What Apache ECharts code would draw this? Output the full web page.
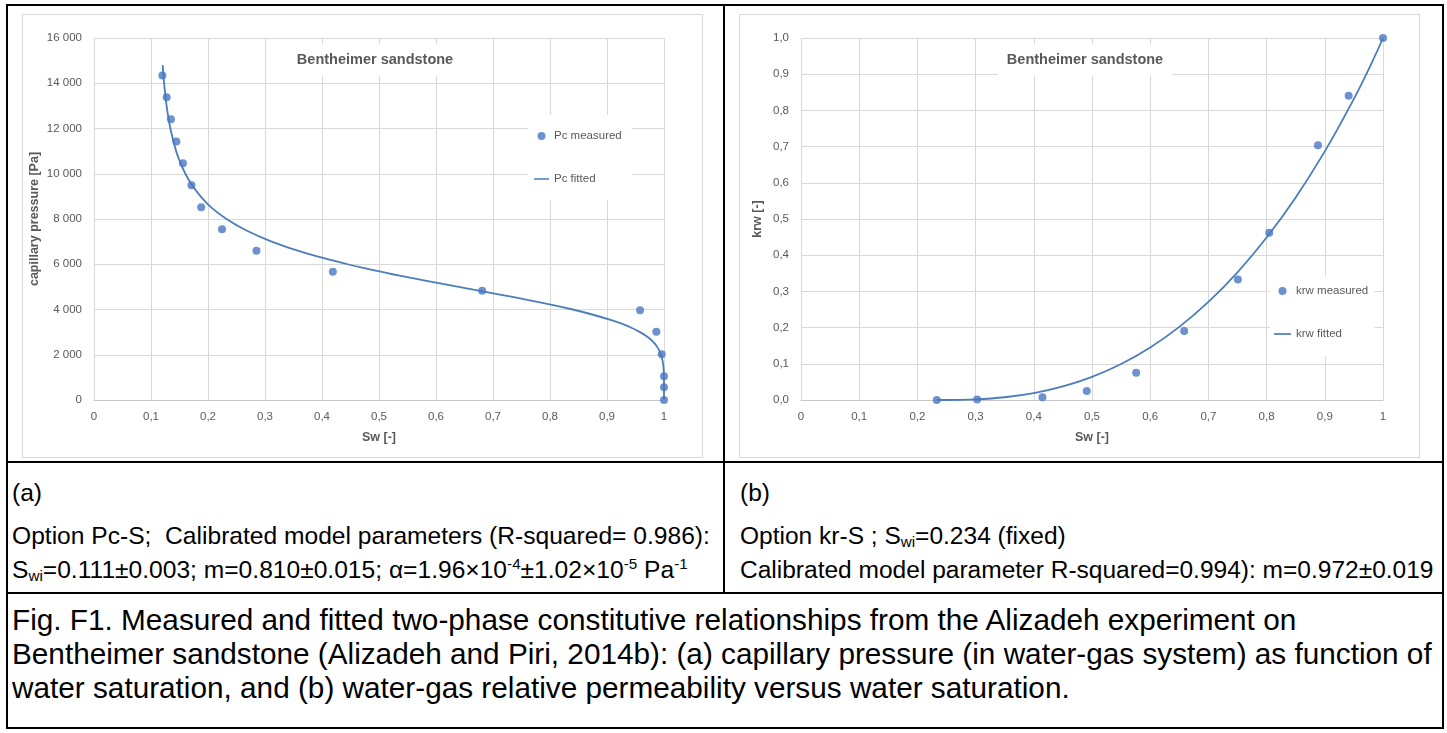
<!DOCTYPE html>
<html><head><meta charset="utf-8">
<script src="https://cdn.jsdelivr.net/npm/echarts@6/dist/echarts.min.js"></script>
<style>
html,body{margin:0;padding:0;background:#fff;}
body{width:1447px;height:733px;position:relative;overflow:hidden;font-family:"Liberation Sans",Arial,sans-serif;color:#000;}
.hl{position:absolute;background:#000;}
.box{position:absolute;box-sizing:border-box;border:1px solid #d9d9d9;background:#fff;}
.chart{position:absolute;}
.t{position:absolute;white-space:nowrap;line-height:34px;height:34px;}
sub{font-size:0.62em;vertical-align:-0.22em;line-height:0;}
sup{font-size:0.62em;vertical-align:0.6em;line-height:0;}
</style></head><body>
<!-- table frame -->
<div class="hl" style="left:6px;top:4px;width:1438px;height:2px"></div>
<div class="hl" style="left:6px;top:461px;width:1438px;height:2px"></div>
<div class="hl" style="left:6px;top:592px;width:1438px;height:2px"></div>
<div class="hl" style="left:6px;top:727px;width:1438px;height:2px"></div>
<div class="hl" style="left:6px;top:4px;width:2px;height:725px"></div>
<div class="hl" style="left:1442px;top:4px;width:2px;height:725px"></div>
<div class="hl" style="left:723px;top:4px;width:2px;height:590px"></div>

<div class="box" style="left:22px;top:14px;width:681px;height:444px"></div>
<div class="box" style="left:739px;top:14px;width:681px;height:444px"></div>
<div id="c1" class="chart" style="left:22px;top:14px;width:681px;height:444px"></div>
<div id="c2" class="chart" style="left:739px;top:14px;width:681px;height:444px"></div>

<div class="t ca" style="left:12px;top:476px">(a)</div>
<div class="t ca" id="refA" style="left:12px;top:519px">Option Pc-S;&nbsp; Calibrated model parameters (R-squared= 0.986):</div>
<div class="t ca" style="left:12px;top:553px">S<sub>wi</sub>=0.111±0.003; m=0.810±0.015; α=1.96×10<sup>-4</sup>±1.02×10<sup>-5</sup> Pa<sup>-1</sup></div>

<div class="t cb" style="left:740px;top:476px">(b)</div>
<div class="t cb" style="left:740px;top:519px">Option kr-S ; S<sub>wi</sub>=0.234 (fixed)</div>
<div class="t cb" id="refB" style="left:740px;top:553px">Calibrated model parameter R-squared=0.994): m=0.972±0.019</div>

<div class="t cf" style="left:12px;top:603px">Fig. F1. Measured and fitted two-phase constitutive relationships from the Alizadeh experiment on</div>
<div class="t cf" id="refF" style="left:12px;top:637px">Bentheimer sandstone (Alizadeh and Piri, 2014b): (a) capillary pressure (in water-gas system) as function of</div>
<div class="t cf" style="left:12px;top:671px">water saturation, and (b) water-gas relative permeability versus water saturation.</div>

<script>
// ---------- data ----------
const pcMeasuredSw = [0.120, 0.1275, 0.135, 0.1445, 0.156, 0.171, 0.188, 0.2246, 0.285, 0.419, 0.681, 0.958, 0.9866, 0.996, 1.0, 1.0, 1.0];
const pcMeasuredPc = [14340, 13380, 12410, 11420, 10460, 9490, 8520, 7550, 6600, 5670, 4830, 3970, 3020, 2020, 1050, 560, 0];

const pcFittedSw = [0.1205, 0.123, 0.1274, 0.134, 0.1441, 0.1513, 0.1603, 0.1719, 0.187, 0.206, 0.2325, 0.2666, 0.3116, 0.370, 0.445, 0.4798, 0.536, 0.640, 0.7456, 0.840, 0.912, 0.938, 0.958, 0.9731, 0.9835, 0.9904, 0.9948, 0.9974, 0.9989, 0.9996, 0.9999, 1.0, 1.0];
const pcFittedPc = [14800, 14000, 13000, 12000, 11000, 10500, 10000, 9500, 9000, 8500, 8000, 7500, 7000, 6500, 6000, 5800, 5500, 5000, 4500, 4000, 3500, 3250, 3000, 2750, 2500, 2250, 2000, 1750, 1500, 1250, 1000, 500, 0];

const krwMeasuredSw = [0.2333, 0.3026, 0.4149, 0.491, 0.5759, 0.6584, 0.7507, 0.8045, 0.8882, 0.941, 1.0];
const krwMeasuredKrw = [0.0, 0.0015, 0.0075, 0.0249, 0.0756, 0.1905, 0.333, 0.4619, 0.7037, 0.8408, 1.0];

const krwFittedSw = [0.234, 0.25, 0.3, 0.35, 0.4, 0.45, 0.5, 0.55, 0.6, 0.65, 0.7, 0.75, 0.8, 0.85, 0.9, 0.95, 0.98, 1.0];
const krwFittedKrw = [0.0, 0.0, 0.0018, 0.0076, 0.019, 0.0374, 0.0638, 0.0994, 0.1452, 0.202, 0.271, 0.3528, 0.4487, 0.5596, 0.6867, 0.832, 0.9291, 1.0];

const chartTitle = 'Bentheimer sandstone';
const xName = 'Sw [-]';
const pcName = 'capillary pressure [Pa]';
const krwName = 'krw [-]';
const pcLegend = ['Pc measured', 'Pc fitted'];
const krwLegend = ['krw measured', 'krw fitted'];

// ---------- styling ----------
const FONT = '"Liberation Sans", Arial, sans-serif';
const GREY = '#595959';
const GRID = '#d9d9d9';
const MARK = '#4877c0';
const LINE = '#4a7ebb';

const pairs = (xs, ys) => xs.map((x, i) => [x, ys[i]]);
const fmtX = v => String(+v.toFixed(1)).replace('.', ',');
const fmtThousands = v => String(Math.round(v)).replace(/\B(?=(\d{3})+(?!\d))/g, ' ');
const fmtOne = v => v.toFixed(1).replace('.', ',');

function baseOption(o) {
  return {
    animation: false,
    textStyle: { fontFamily: FONT },
    grid: Object.assign({ containLabel: false, outerBoundsMode: 'none' }, o.grid),
    xAxis: {
      type: 'value', min: 0, max: 1, interval: 0.1,
      name: xName, nameLocation: 'middle', nameGap: 31, nameMoveOverlap: false,
      nameTextStyle: { color: GREY, fontSize: 12.5, fontWeight: 'bold', fontFamily: FONT },
      axisLine: { show: true, lineStyle: { color: '#c8c8c8', width: 1 } },
      axisTick: { show: false },
      axisLabel: { color: GREY, fontSize: 11.5, margin: 11, formatter: fmtX, fontFamily: FONT },
      splitLine: { show: true, lineStyle: { color: GRID, width: 1 } }
    },
    yAxis: {
      type: 'value', min: 0, max: o.ymax, interval: o.yint,
      name: o.yname, nameLocation: 'middle', nameGap: o.ynameGap, nameRotate: 90,
      nameMoveOverlap: false,
      nameTextStyle: { color: GREY, fontSize: 12.5, fontWeight: 'bold', fontFamily: FONT },
      axisLine: { show: false }, axisTick: { show: false },
      axisLabel: { color: GREY, fontSize: 11.5, margin: 12, formatter: o.yfmt, fontFamily: FONT },
      splitLine: { show: true, lineStyle: { color: GRID, width: 1 } }
    },
    legend: {
      orient: 'vertical', left: o.legLeft, top: o.legTop,
      itemWidth: o.legItemW, itemHeight: 8, itemGap: 31, symbolKeepAspect: true,
      backgroundColor: '#fff', padding: o.legPad, z: 6,
      textStyle: { color: GREY, fontSize: 11.5, fontFamily: FONT },
      data: [
        { name: o.legend[0], icon: 'circle' },
        { name: o.legend[1], icon: 'path://M0,0H20V2H0Z' }
      ]
    },
    graphic: [{
      type: 'text', x: o.titleX, y: 46, z: 100,
      style: {
        text: chartTitle, fill: GREY, font: 'bold 14.5px ' + FONT,
        align: 'center', verticalAlign: 'middle',
        backgroundColor: '#fff', padding: [8, 9]
      }
    }],
    series: [
      {
        name: o.legend[0], type: 'scatter', symbol: 'circle', symbolSize: 8,
        itemStyle: { color: MARK }, data: o.measured, z: 3
      },
      {
        name: o.legend[1], type: 'line', symbol: 'none', smooth: 0.4,
        lineStyle: { color: LINE, width: 1.8 }, itemStyle: { color: LINE },
        data: o.fitted, z: 2
      }
    ]
  };
}

const c1 = echarts.init(document.getElementById('c1'), null, { renderer: 'canvas' });
c1.setOption(baseOption({
  grid: { left: 72, top: 24, width: 570, height: 362 },
  ymax: 16000, yint: 2000, yname: pcName, ynameGap: 53, yfmt: fmtThousands,
  legLeft: 506, legTop: 101, legItemW: 15, legPad: [15, 10, 15, 6],
  legend: pcLegend, titleX: 353,
  measured: pairs(pcMeasuredSw, pcMeasuredPc),
  fitted: pairs(pcFittedSw, pcFittedPc)
}));

const c2 = echarts.init(document.getElementById('c2'), null, { renderer: 'canvas' });
c2.setOption(baseOption({
  grid: { left: 62, top: 24, width: 582, height: 362 },
  ymax: 1, yint: 0.1, yname: krwName, ynameGap: 37, yfmt: fmtOne,
  legLeft: 531, legTop: 263, legItemW: 17, legPad: [8, 6, 16, 4],
  legend: krwLegend, titleX: 346,
  measured: pairs(krwMeasuredSw, krwMeasuredKrw),
  fitted: pairs(krwFittedSw, krwFittedKrw)
}));

// ---------- caption text sizing: fit reference line widths ----------
function fitBlock(cls, refId, target) {
  const els = document.querySelectorAll('.' + cls);
  els.forEach(e => e.style.fontSize = '20px');
  const w = document.getElementById(refId).getBoundingClientRect().width;
  const fs = 20 * target / w;
  els.forEach(e => e.style.fontSize = fs.toFixed(2) + 'px');
}
fitBlock('ca', 'refA', 698);
fitBlock('cb', 'refB', 694);
fitBlock('cf', 'refF', 1420);
</script>
</body></html>
